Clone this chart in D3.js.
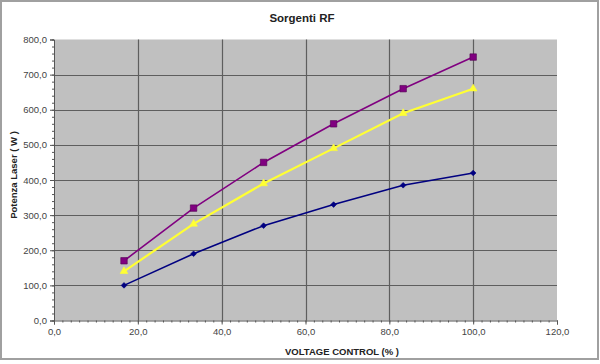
<!DOCTYPE html>
<html><head><meta charset="utf-8">
<script src="https://cdn.jsdelivr.net/npm/d3@7"></script>
<style>body{margin:0;background:#fff}svg{display:block;font-family:"Liberation Sans",Arial,sans-serif}</style>
</head><body><svg id="c" width="600" height="364"></svg>
<script>
const xValues = [16.7, 33.3, 50.0, 66.7, 83.3, 100.0];
const seriesPurple = [170, 320, 450, 560, 660, 750];
const seriesYellow = [140, 275, 390, 490, 590, 660];
const seriesBlue = [100, 190, 270, 330, 385, 420];
const xTicks = [0, 20, 40, 60, 80, 100, 120];
const yTicks = [0, 100, 200, 300, 400, 500, 600, 700, 800];
const title = "Sorgenti RF";
const xTitle = "VOLTAGE CONTROL (% )";
const yTitle = "Potenza Laser  ( W )";

const svg = d3.select("#c");
const m = {l:54, r:557, t:39.5, b:320.5};
const x = d3.scaleLinear().domain([0,120]).range([m.l, m.r]);
const y = d3.scaleLinear().domain([0,800]).range([m.b, m.t]);
const fmt = d => d.toFixed(1).replace(".", ",");

svg.append("rect").attr("x",1).attr("y",1).attr("width",597).attr("height",358)
  .attr("fill","#fff").attr("stroke","#a0a0a0").attr("stroke-width",2);

svg.append("rect").attr("x",m.l).attr("y",m.t).attr("width",m.r-m.l).attr("height",m.b-m.t)
  .attr("fill","#c0c0c0");

// gridlines
svg.append("g").selectAll("line").data(yTicks.slice(1,-1)).join("line")
  .attr("x1",m.l).attr("x2",m.r).attr("y1",d=>Math.round(y(d))+0.5).attr("y2",d=>Math.round(y(d))+0.5)
  .attr("stroke","#5e5e5e").attr("stroke-width",1.2);
svg.append("g").selectAll("line").data(xTicks.slice(1,-1)).join("line")
  .attr("y1",m.t).attr("y2",m.b).attr("x1",d=>Math.round(x(d))+0.5).attr("x2",d=>Math.round(x(d))+0.5)
  .attr("stroke","#5e5e5e").attr("stroke-width",1.2);

// axes
const yAxis = d3.axisLeft(y).tickValues(yTicks).tickFormat(fmt).tickSize(4).tickPadding(3);
svg.append("g").attr("transform",`translate(${m.l},0)`).call(yAxis);
const yMinor = d3.axisLeft(y).tickValues(d3.range(0,801,20)).tickFormat("").tickSize(2);
svg.append("g").attr("transform",`translate(${m.l},0)`).call(yMinor).select(".domain").remove();
const xAxis = d3.axisBottom(x).tickValues(xTicks).tickFormat(fmt).tickSize(4).tickPadding(4);
svg.append("g").attr("transform",`translate(0,${m.b})`).call(xAxis);
const xMinor = d3.axisBottom(x).tickValues(d3.range(0,121,2)).tickFormat("").tickSize(2);
svg.append("g").attr("transform",`translate(0,${m.b})`).call(xMinor).select(".domain").remove();
svg.selectAll(".domain").attr("stroke","#555");
svg.selectAll(".tick line").attr("stroke","#555");
svg.selectAll(".tick text").attr("fill","#444").attr("font-size",9.5).attr("font-family","Liberation Sans, Arial, sans-serif");

// series
const data = [
  {vals: seriesPurple, color:"#800080", marker:"square", width:1.6},
  {vals: seriesYellow, color:"#ffff33", marker:"triangle", width:2.2},
  {vals: seriesBlue, color:"#000080", marker:"diamond", width:1.6}
];
const line = d3.line().x(d=>x(d[0])).y(d=>y(d[1]));
data.forEach(s => {
  const pts = xValues.map((v,i)=>[v, s.vals[i]]);
  svg.append("path").datum(pts).attr("d",line).attr("fill","none")
    .attr("stroke",s.color).attr("stroke-width",s.width);
  const sym = s.marker==="square" ? d3.symbolSquare : s.marker==="triangle" ? d3.symbolTriangle : d3.symbolSquare;
  const size = s.marker==="square" ? 42 : s.marker==="triangle" ? 26 : 16;
  const rot = s.marker==="diamond" ? " rotate(45)" : "";
  svg.append("g").selectAll("path").data(pts).join("path")
    .attr("d", d3.symbol().type(sym).size(size))
    .attr("transform", d=>`translate(${x(d[0])},${y(d[1])})${rot}`)
    .attr("fill", s.color).attr("stroke", s.marker==="square" ? "#500050" : s.color).attr("stroke-width",0.6);
});

svg.append("text").attr("x",302).attr("y",22).attr("text-anchor","middle")
  .attr("font-size",11.5).attr("font-weight","bold").attr("fill","#222").text(title);
svg.append("text").attr("x",342).attr("y",355).attr("text-anchor","middle")
  .attr("font-size",9.5).attr("font-weight","bold").attr("fill","#222").text(xTitle);
svg.append("text").attr("transform","translate(17,175) rotate(-90)").attr("text-anchor","middle")
  .attr("font-size",9.5).attr("font-weight","bold").attr("fill","#222").text(yTitle);
</script></body></html>
